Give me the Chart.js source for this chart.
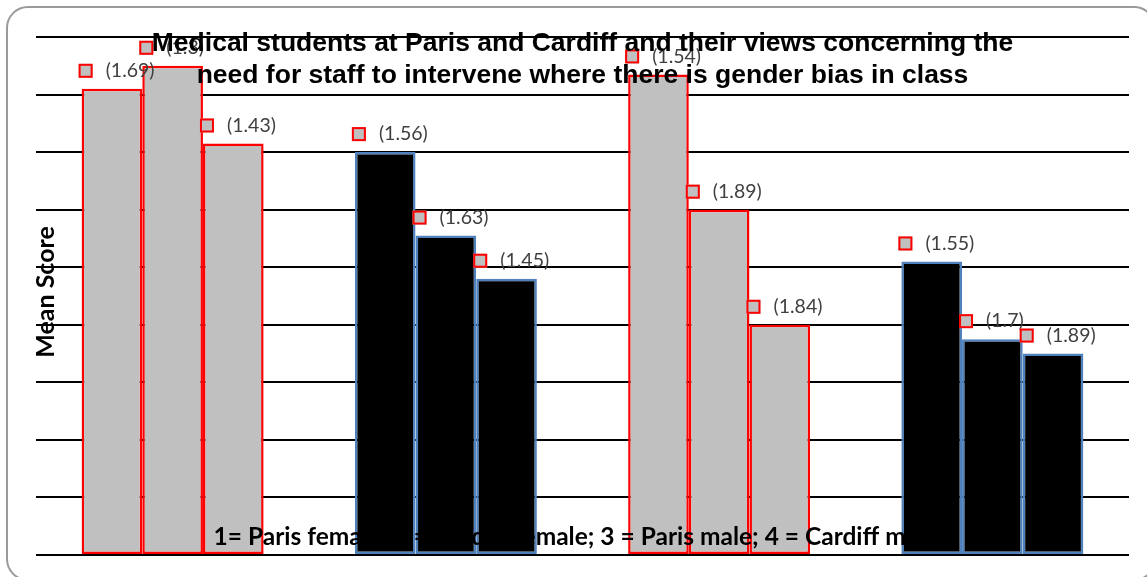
<!DOCTYPE html>
<html>
<head>
<meta charset="utf-8">
<script src="https://cdn.jsdelivr.net/npm/chart.js@4"></script>
<style>
  html, body { margin: 0; padding: 0; background: #fff; overflow: hidden; }
  #wrap { position: relative; width: 1147px; height: 577px; }
  #frame { position: absolute; left: 6px; top: 6px; width: 1150px; height: 575px;
           border: 2px solid #9a9a9a; border-radius: 22px; box-sizing: border-box; }
  #grafica { position: absolute; left: 0; top: 0; }
</style>
</head>
<body>
<div id="wrap">
  <div id="frame"></div>
  <canvas id="grafica" width="1147" height="577"></canvas>
</div>
<script>
var categorias = ['1', '2', '3', '4']
var series = ['Bar 1', 'Bar 2', 'Bar 3']

// bar heights (axis 0 - 1.8, one gridline every 0.2)
var barra1 = [1.62, 1.40, 1.67, 1.02]
var barra2 = [1.70, 1.11, 1.20, 0.75]
var barra3 = [1.43, 0.96, 0.80, 0.70]

// the bracketed labels as printed next to each bar
var etiquetas1 = ['(1.69)', '(1.56)', '(1.54)', '(1.55)']
var etiquetas2 = ['(1.3)', '(1.63)', '(1.89)', '(1.7)']
var etiquetas3 = ['(1.43)', '(1.45)', '(1.84)', '(1.89)']

var yMin = 0, yMax = 1.8, yStep = 0.2

var titulo = ['Medical students at Paris and Cardiff and their views concerning the',
              'need for staff to intervene where there is gender bias in class']
var tituloEjeX = '1= Paris female; 2 = Cardiff female; 3 = Paris male; 4 = Cardiff male'
var tituloEjeY = 'Mean Score'

var rellenos = ['#c0c0c0', '#000000', '#c0c0c0', '#000000']
var bordes = ['#ff0000', '#4f81bd', '#ff0000', '#4f81bd']

var etiquetas = [etiquetas1, etiquetas2, etiquetas3]

var textosPlugin = {
  id: 'textos',
  afterDatasetsDraw: function(chart) {
    var ctx = chart.ctx
    var area = chart.chartArea
    ctx.save()

    // value labels with the little legend-like square
    chart.data.datasets.forEach(function(ds, i) {
      var meta = chart.getDatasetMeta(i)
      meta.data.forEach(function(bar, j) {
        var left = bar.x - bar.width / 2
        var cy = bar.y - 18
        var sx = left - 3
        ctx.fillStyle = '#c0c0c0'
        ctx.fillRect(sx, cy - 7, 14, 14)
        ctx.strokeStyle = '#ff0000'
        ctx.lineWidth = 2
        ctx.strokeRect(sx + 1, cy - 6, 12, 12)
        ctx.fillStyle = '#404040'
        ctx.font = '19.5px Lato'
        ctx.textAlign = 'left'
        ctx.textBaseline = 'middle'
        ctx.fillText(etiquetas[i][j], sx + 27, cy)
      })
    })

    var cx = (area.left + area.right) / 2

    // title, sitting over the top of the plot
    ctx.fillStyle = '#000'
    ctx.font = 'bold 26.5px "Liberation Sans"'
    ctx.textAlign = 'center'
    ctx.textBaseline = 'alphabetic'
    ctx.fillText(titulo[0], cx, 51)
    ctx.fillText(titulo[1], cx, 83)

    // x axis note
    ctx.font = 'bold 24.5px Lato'
    ctx.fillText(tituloEjeX, cx - 7, 545)

    // y axis title
    ctx.translate(54, (area.top + area.bottom) / 2 - 4)
    ctx.rotate(-Math.PI / 2)
    ctx.font = 'bold 25px Lato'
    ctx.fillText(tituloEjeY, 0, 0)
    ctx.restore()
  }
}

function armarDataset(nombre, valores) {
  return {
    label: nombre,
    data: valores,
    backgroundColor: function(c) { return rellenos[c.dataIndex] },
    borderColor: function(c) { return bordes[c.dataIndex] },
    borderWidth: 2.5,
    borderSkipped: false,
    barPercentage: 1.0,
    categoryPercentage: 0.666
  }
}

var ctx = document.getElementById('grafica').getContext('2d')
var miGrafica = new Chart(ctx, {
  type: 'bar',
  data: {
    labels: categorias,
    datasets: [
      armarDataset(series[0], barra1),
      armarDataset(series[1], barra2),
      armarDataset(series[2], barra3)
    ]
  },
  options: {
    responsive: false,
    animation: false,
    layout: { padding: { left: 36, right: 18, top: 37, bottom: 14 } },
    scales: {
      x: {
        grid: { display: false },
        border: { display: false },
        ticks: { display: false }
      },
      y: {
        min: yMin,
        max: yMax,
        ticks: { display: false, stepSize: yStep },
        grid: { color: '#000', lineWidth: 2, drawTicks: false },
        border: { display: false }
      }
    },
    plugins: {
      legend: { display: false },
      title: { display: false },
      tooltip: { enabled: false }
    }
  },
  plugins: [textosPlugin]
})
</script>
</body>
</html>
